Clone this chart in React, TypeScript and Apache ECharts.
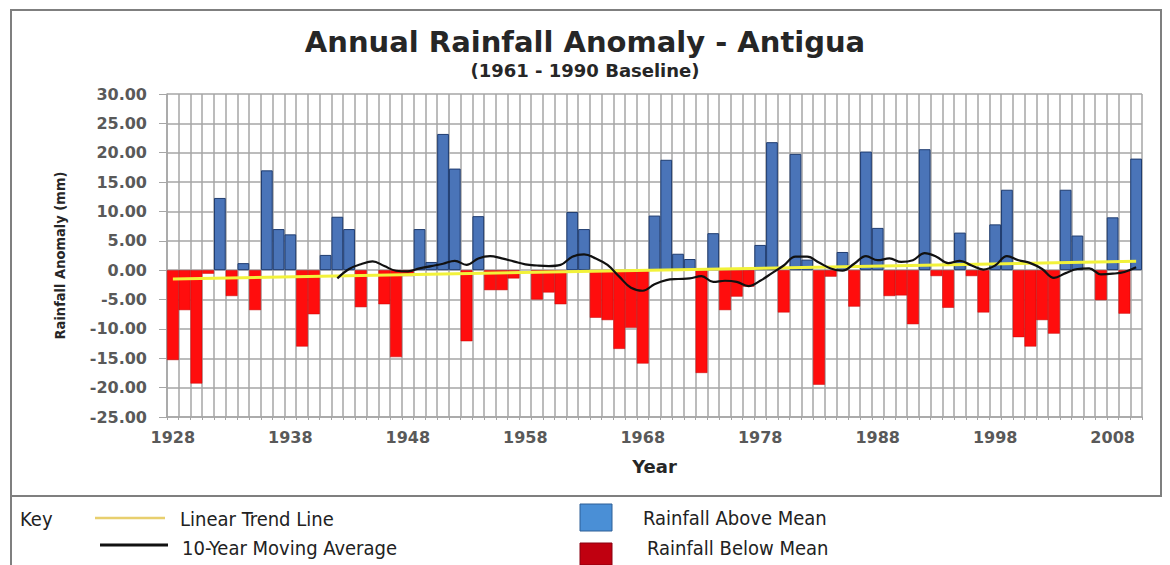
import React, { useEffect, useRef } from 'react';
import * as echarts from 'echarts';

const firstYear = 1928;
const lastYear = 2010;
const years: string[] = [];
for (let y = firstYear; y <= lastYear; y++) years.push(String(y));

// Annual rainfall anomaly (mm), 1928 - 2010
const anomalies = [
  -15.3, -6.8, -19.3, -0.6, 12.3, -4.4, 1.2, -6.8, 17.0, 7.0, // 1928-1937
  6.1, -13.0, -7.5, 2.6, 9.1, 7.0, -6.3, 0, -5.8, -14.8, // 1938-1947
  -1.0, 7.0, 1.4, 23.2, 17.3, -12.1, 9.2, -3.4, -3.4, -1.4, // 1948-1957
  0, -5.0, -3.8, -5.8, 9.9, 7.0, -8.1, -8.5, -13.4, -9.8, // 1958-1967
  -15.9, 9.3, 18.8, 2.8, 1.9, -17.5, 6.3, -6.8, -4.5, -2.8, // 1968-1977
  4.3, 21.8, -7.2, 19.8, 1.8, -19.5, -1.1, 3.1, -6.2, 20.2, // 1978-1987
  7.2, -4.4, -4.3, -9.2, 20.6, -1.0, -6.4, 6.4, -1.0, -7.2, // 1988-1997
  7.8, 13.7, -11.4, -13.0, -8.5, -10.8, 13.7, 5.9, 0, -5.1, // 1998-2007
  9.0, -7.4, 19.0, // 2008-2010
];

// 10-year moving average, starting 1942
const maStartYear = 1942;
const movingAverage = [
  -1.4, 0.2, 1.0, 1.5, 0.7, -0.1, -0.2, 0.3, 0.7, 1.1, // 1942-1951
  1.6, 0.9, 2.0, 2.4, 2.0, 1.5, 1.0, 0.8, 0.7, 0.9, // 1952-1961
  2.3, 2.7, 2.0, 0.9, -1.1, -3.0, -3.5, -2.4, -1.7, -1.5, // 1962-1971
  -1.4, -1.0, -2.0, -1.8, -2.0, -2.7, -1.8, -0.5, 0.8, 2.3, // 1972-1981
  2.3, 1.3, 0.3, -0.1, 1.1, 2.4, 1.7, 2.0, 1.4, 1.7, // 1982-1991
  2.9, 2.3, 1.2, 1.6, 0.8, 0.1, 0.8, 2.4, 1.7, 1.2, // 1992-2001
  0.2, -1.3, -0.5, 0.2, 0.3, -0.7, -0.6, -0.3, 0.5, // 2002-2010
];

// Linear trend line end values
const trendStart = -1.5;
const trendEnd = 1.5;

const yMin = -25;
const yMax = 30;
const yStep = 5;

const narrow = "'Liberation Sans Narrow', 'DejaVu Sans Condensed', 'Roboto', sans-serif";
const wide = "'DejaVu Sans', 'Verdana', sans-serif";

export default function App() {
  const ref = useRef<HTMLDivElement>(null);
  useEffect(() => {
    document.body.style.margin = '0';
    const chart = echarts.init(ref.current!, null, { renderer: 'svg' });

    const above = anomalies.map((v) => (v > 0 ? v : '-'));
    const below = anomalies.map((v) => (v < 0 ? v : '-'));
    const maData: (number | null)[] = years.map(() => null);
    movingAverage.forEach((v, i) => {
      maData[maStartYear - firstYear + i] = v;
    });

    const gridColor = '#a6a6a6';
    const keyText = (text: string, x: number, y: number) => ({
      type: 'text',
      x,
      y,
      style: { text, fontFamily: narrow, fontSize: 20, fill: '#222', verticalAlign: 'middle' },
    });

    chart.setOption({
      animation: false,
      backgroundColor: '#ffffff',
      title: {
        text: 'Annual Rainfall Anomaly - Antigua',
        subtext: '(1961 - 1990 Baseline)',
        left: 'center',
        top: 22,
        itemGap: 5,
        textStyle: { fontFamily: wide, fontWeight: 'bold', fontSize: 29, color: '#262626' },
        subtextStyle: { fontFamily: wide, fontWeight: 'bold', fontSize: 18, color: '#262626' },
      },
      grid: { left: 167, right: 28, top: 94, bottom: 148 },
      xAxis: {
        type: 'category',
        data: years,
        boundaryGap: true,
        name: 'Year',
        nameLocation: 'middle',
        nameGap: 40,
        nameTextStyle: { fontFamily: wide, fontWeight: 'bold', fontSize: 18, color: '#262626' },
        axisLine: { show: true, onZero: false, lineStyle: { color: gridColor, width: 1.5 } },
        axisTick: { show: true, interval: 0, length: 3, lineStyle: { color: gridColor } },
        axisLabel: {
          interval: 9,
          margin: 12,
          fontFamily: wide,
          fontWeight: 'bold',
          fontSize: 16,
          color: '#595959',
        },
        splitLine: { show: true, interval: 0, lineStyle: { color: gridColor, width: 1.5 } },
      },
      yAxis: {
        type: 'value',
        min: yMin,
        max: yMax,
        interval: yStep,
        name: 'Rainfall Anomaly (mm)',
        nameLocation: 'middle',
        nameRotate: 90,
        nameGap: 100,
        nameTextStyle: { fontFamily: narrow, fontWeight: 'bold', fontSize: 14.5, color: '#262626' },
        axisLine: { show: true, lineStyle: { color: gridColor, width: 1.5 } },
        axisTick: { show: true, length: 8, lineStyle: { color: gridColor } },
        axisLabel: {
          margin: 20,
          formatter: (v: number) => v.toFixed(2),
          fontFamily: wide,
          fontWeight: 'bold',
          fontSize: 16,
          color: '#595959',
        },
        splitLine: { show: true, lineStyle: { color: gridColor, width: 1.5 } },
      },
      series: [
        {
          name: 'Rainfall Above Mean',
          type: 'bar',
          data: above,
          barGap: '-100%',
          barCategoryGap: '0%',
          itemStyle: { color: '#4a74b8', borderColor: '#1f3c70', borderWidth: 1 },
          z: 2,
        },
        {
          name: 'Rainfall Below Mean',
          type: 'bar',
          data: below,
          barGap: '-100%',
          barCategoryGap: '0%',
          itemStyle: { color: '#ff0d0d', borderColor: '#c80000', borderWidth: 0.5 },
          z: 2,
        },
        {
          name: 'Linear Trend Line',
          type: 'line',
          data: [
            [0, trendStart],
            [years.length - 1, trendEnd],
          ],
          symbol: 'none',
          lineStyle: { color: '#f2f23a', width: 3 },
          z: 3,
        },
        {
          name: '10-Year Moving Average',
          type: 'line',
          data: maData,
          smooth: 0.4,
          symbol: 'none',
          connectNulls: false,
          lineStyle: { color: '#111111', width: 2.2 },
          z: 4,
        },
      ],
      graphic: [
        {
          type: 'rect',
          shape: { x: 11, y: 10, width: 1150, height: 486 },
          style: { fill: 'none', stroke: '#7f7f7f', lineWidth: 2 },
          silent: true,
        },
        {
          type: 'line',
          shape: { x1: 11, y1: 496, x2: 11, y2: 565 },
          style: { stroke: '#7f7f7f', lineWidth: 2 },
        },
        keyText('Key', 20, 519),
        {
          type: 'line',
          shape: { x1: 95, y1: 518, x2: 165, y2: 518 },
          style: { stroke: '#e8cf6e', lineWidth: 2.5 },
        },
        keyText('Linear Trend Line', 180, 519),
        {
          type: 'line',
          shape: { x1: 100, y1: 545, x2: 168, y2: 545 },
          style: { stroke: '#111', lineWidth: 3 },
        },
        keyText('10-Year Moving Average', 182, 548),
        {
          type: 'rect',
          shape: { x: 580, y: 504, width: 32, height: 27 },
          style: { fill: '#4a8fd6', stroke: '#2d5f96', lineWidth: 1 },
        },
        keyText('Rainfall Above Mean', 643, 518),
        {
          type: 'rect',
          shape: { x: 580, y: 543, width: 32, height: 22 },
          style: { fill: '#c00010', stroke: '#8a0010', lineWidth: 1 },
        },
        keyText('Rainfall Below Mean', 647, 548),
      ],
    });

    return () => chart.dispose();
  }, []);
  return <div ref={ref} style={{ width: 1170, height: 565 }} />;
}
